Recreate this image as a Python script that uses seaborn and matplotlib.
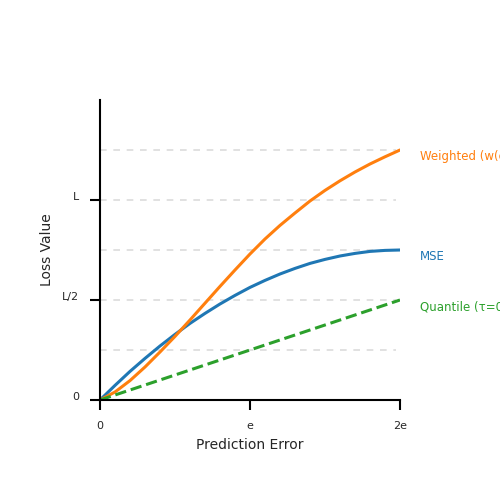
import matplotlib
matplotlib.use("Agg")
import matplotlib.pyplot as plt
import pandas as pd
import seaborn as sns

# prediction error, in units of e
err = [0, 0.1, 0.2, 0.3, 0.4, 0.5, 0.6, 0.7, 0.8, 0.9, 1.0,
       1.1, 1.2, 1.3, 1.4, 1.5, 1.6, 1.7, 1.8, 1.9, 2.0]
# loss values, in units of L
mse = [0, 0.073, 0.143, 0.208, 0.27, 0.328, 0.383, 0.433, 0.48, 0.523, 0.563,
       0.598, 0.63, 0.658, 0.683, 0.703, 0.72, 0.733, 0.743, 0.748, 0.75]
weighted = [0, 0.040, 0.097, 0.165, 0.240, 0.318, 0.400, 0.484, 0.568, 0.650, 0.730,
            0.805, 0.873, 0.935, 0.995, 1.048, 1.096, 1.140, 1.180, 1.216, 1.25]
quantile = [0, 0.025, 0.05, 0.075, 0.1, 0.125, 0.15, 0.175, 0.2, 0.225, 0.25,
            0.275, 0.3, 0.325, 0.35, 0.375, 0.4, 0.425, 0.45, 0.475, 0.5]

names = ["MSE", "Weighted (w(e)·MSE)", "Quantile (τ=0.5)"]
xtick_labels = ["0", "e", "2e"]
ytick_labels = ["0", "L/2", "L"]

df = pd.DataFrame({"err": err * 3,
                   "loss": mse + weighted + quantile,
                   "kind": [n for n in names for _ in err]})

sns.set_style("white")
colors = {names[0]: "#1f77b4", names[1]: "#ff7f0e", names[2]: "#2ca02c"}

fig = plt.figure(figsize=(5, 5), dpi=100)
ax = fig.add_axes([0.2, 0.2, 0.6, 0.6])

# light dashed guide lines
for g in [0.25, 0.5, 0.75, 1.0, 1.25]:
    ax.hlines(g, 0, 1.97, color="#dcdcdc", lw=1.2, linestyles=(0, (4, 4)), zorder=0)

for name in names:
    sub = df[df["kind"] == name]
    sns.lineplot(data=sub, x="err", y="loss", ax=ax, color=colors[name],
                 lw=2.2, linestyle="--" if name.startswith("Quantile") else "-")
    ax.text(2.133, sub["loss"].iloc[-1], name, color=colors[name],
            fontsize=8.5, va="top", ha="left", clip_on=False)

ax.set_xlim(0, 2)
ax.set_ylim(0, 1.5)
ax.set_xticks([0, 1, 2])
ax.set_xticklabels(xtick_labels, fontsize=8)
ax.set_yticks([0, 0.5, 1.0])
ax.set_yticklabels(ytick_labels, fontsize=8)
for lab in ax.get_yticklabels():
    lab.set_verticalalignment("baseline")

ax.tick_params(axis="both", length=7, width=1.5, color="black",
               direction="out", bottom=True, left=True)
ax.tick_params(axis="x", pad=8)
ax.tick_params(axis="y", pad=8)
ax.set_xlabel("Prediction Error", fontsize=10, labelpad=5)
ax.set_ylabel("Loss Value", fontsize=10, labelpad=5.5)

for side in ["top", "right"]:
    ax.spines[side].set_visible(False)
for side in ["left", "bottom"]:
    ax.spines[side].set_color("black")
    ax.spines[side].set_linewidth(1.5)

fig.savefig("out.png", dpi=100)
